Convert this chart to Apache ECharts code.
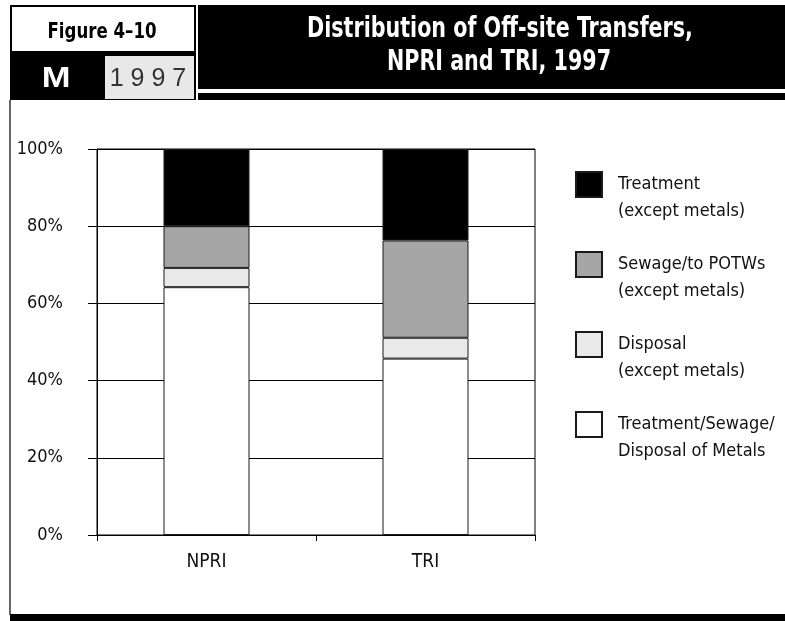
<!DOCTYPE html>
<html>
<head>
<meta charset="utf-8">
<script src="https://cdn.jsdelivr.net/npm/echarts@6/dist/echarts.min.js"></script>
<style>
html, body { margin: 0; padding: 0; background: #fff; }
#main { width: 785px; height: 621px; }
</style>
</head>
<body>
<div id="main"></div>
<script>
// values (percent of off-site transfers)
var categories = ['NPRI', 'TRI'];
var metals = [64.2, 45.7];
var disposal = [5.0, 5.4];
var sewage = [10.8, 25.2];
var treatment = [20.0, 23.7];
var yTicks = [0, 20, 40, 60, 80, 100];

var names = {
    treatment: 'Treatment\n(except metals)',
    sewage: 'Sewage/to POTWs\n(except metals)',
    disposal: 'Disposal\n(except metals)',
    metals: 'Treatment/Sewage/\nDisposal of Metals'
};

var narrow = "'Liberation Sans Narrow', 'DejaVu Sans Condensed', sans-serif";
var chart = echarts.init(document.getElementById('main'), null, { renderer: 'canvas' });

function bar(name, data, color) {
    return {
        name: name,
        type: 'bar',
        stack: 'total',
        barWidth: 86,
        data: data,
        itemStyle: {
            color: color,
            borderColor: '#1a1a1a',
            borderWidth: 1
        },
        emphasis: { disabled: true }
    };
}

// header text squeezed to look like the condensed face of the original
function headText(text, x, y, font, color, sx) {
    return {
        type: 'text', x: x, y: y, scaleX: sx,
        style: { text: text, fill: color, font: font, align: 'center', verticalAlign: 'middle' }
    };
}

chart.setOption({
    animation: false,
    grid: {
        left: 97,
        right: 250,
        top: 149,
        bottom: 86,
        show: true,
        borderColor: '#000',
        borderWidth: 1,
        backgroundColor: 'transparent'
    },
    legend: {
        orient: 'vertical',
        left: 575,
        top: 144,
        padding: 0,
        itemGap: -1,
        itemWidth: 26,
        itemHeight: 25,
        icon: 'rect',
        selectedMode: false,
        data: [names.treatment, names.sewage, names.disposal, names.metals],
        // empty first line pushes the label down so its first line sits beside the swatch
        formatter: function (name) {
            return '\n' + name;
        },
        textStyle: {
            fontFamily: narrow,
            fontSize: 18,
            lineHeight: 27,
            color: '#111',
            padding: [0, 0, 0, 11]
        }
    },
    xAxis: {
        type: 'category',
        data: categories,
        axisLine: { lineStyle: { color: '#000', width: 1 } },
        axisTick: { show: true, length: 6, lineStyle: { color: '#000' } },
        axisLabel: {
            margin: 18,
            fontFamily: narrow,
            fontSize: 19,
            color: '#111'
        }
    },
    yAxis: {
        type: 'value',
        min: yTicks[0],
        max: yTicks[yTicks.length - 1],
        interval: yTicks[1] - yTicks[0],
        axisLine: { show: true, lineStyle: { color: '#000', width: 1 } },
        axisTick: { show: true, length: 9, lineStyle: { color: '#000' } },
        splitLine: { show: true, lineStyle: { color: '#000', width: 1 } },
        axisLabel: {
            margin: 34,
            formatter: '{value}%',
            fontFamily: narrow,
            fontSize: 18,
            color: '#111'
        }
    },
    series: [
        bar(names.metals, metals, '#ffffff'),
        bar(names.disposal, disposal, '#e9e9e9'),
        bar(names.sewage, sewage, '#a6a6a6'),
        bar(names.treatment, treatment, '#000000')
    ],
    graphic: [
        // header: figure number box
        { type: 'rect', shape: { x: 11, y: 6, width: 184, height: 46 },
          style: { fill: '#fff', stroke: '#000', lineWidth: 2 } },
        { type: 'rect', shape: { x: 10, y: 52, width: 186, height: 48 },
          style: { fill: '#000' } },
        { type: 'rect', shape: { x: 105, y: 56, width: 89, height: 43 },
          style: { fill: '#e8e8e8' } },
        headText('Figure 4\u201310', 102, 32, 'bold 22px ' + narrow, '#000', 0.84),
        headText('M', 56, 79, 'bold 30px "Liberation Sans", Arial, sans-serif', '#fff', 1.15),
        headText('1 9 9 7', 148, 79, '25px "Liberation Sans", Arial, sans-serif', '#333', 1),
        // header: title box
        { type: 'rect', shape: { x: 198, y: 5, width: 587, height: 84 },
          style: { fill: '#000' } },
        { type: 'rect', shape: { x: 198, y: 93, width: 587, height: 7 },
          style: { fill: '#000' } },
        headText('Distribution of Off-site Transfers,', 500, 30, 'bold 28px ' + narrow, '#fff', 0.82),
        headText('NPRI and TRI, 1997', 499, 63, 'bold 28px ' + narrow, '#fff', 0.82),
        // frame
        { type: 'line', shape: { x1: 10, y1: 100, x2: 10, y2: 615 },
          style: { stroke: '#333', lineWidth: 1.5 } },
        { type: 'rect', shape: { x: 10, y: 614, width: 775, height: 7 },
          style: { fill: '#000' } }
    ]
});
</script>
</body>
</html>
